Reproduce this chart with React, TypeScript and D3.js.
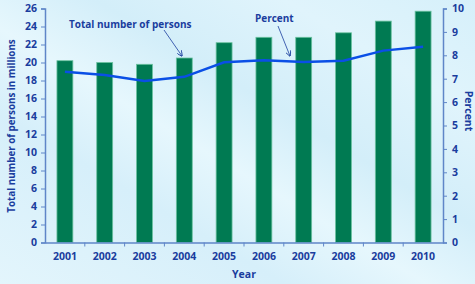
import React, { useEffect, useRef } from 'react';
import * as d3 from 'd3';

const years = ['2001', '2002', '2003', '2004', '2005', '2006', '2007', '2008', '2009', '2010'];
const persons = [20.2, 20.0, 19.8, 20.5, 22.2, 22.8, 22.8, 23.3, 24.6, 25.7];
const percent = [7.3, 7.16, 6.9, 7.08, 7.7, 7.79, 7.71, 7.77, 8.2, 8.37];
const leftTicks = d3.range(0, 27, 2);
const rightTicks = d3.range(0, 11, 1);

const W = 475;
const H = 284;
const TEXT = '#1a3d9e';
const AXIS = '#5f86c8';

const App = () => {
  const svgRef = useRef<SVGSVGElement>(null);

  useEffect(() => {
    if (!svgRef.current) return;
    const svg = d3.select(svgRef.current);
    svg.selectAll('*').remove();

    const margin = { left: 45, right: 32, top: 8, bottom: 41.5 };
    const x0 = margin.left;
    const x1 = W - margin.right;
    const yTop = margin.top + 0.5;
    const yBot = H - margin.bottom;

    // 背景渐变
    const defs = svg.append('defs');
    const grad = defs.append('linearGradient')
      .attr('id', 'bg').attr('x1', '0').attr('y1', '1').attr('x2', '1').attr('y2', '0');
    [['0', '#e3f5fc'], ['0.3', '#d6effa'], ['0.45', '#e6f7fd'], ['0.6', '#d3eef9'], ['0.8', '#e0f4fc'], ['1', '#d6f0fa']]
      .forEach(([o, c]) => grad.append('stop').attr('offset', o).attr('stop-color', c));
    svg.append('rect').attr('width', W).attr('height', H).attr('fill', 'url(#bg)');

    const x = d3.scaleBand().domain(years).range([x0, x1]).paddingInner(0.6).paddingOuter(0.3);
    const xb = d3.scaleBand().domain(years).range([x0, x1]);
    const yL = d3.scaleLinear().domain([0, 26]).range([yBot, yTop]);
    const yR = d3.scaleLinear().domain([0, 10]).range([yBot, yTop]);

    // 柱子
    svg.append('g').selectAll('rect').data(persons).join('rect')
      .attr('x', (_, i) => x(years[i])!)
      .attr('y', d => yL(d))
      .attr('width', x.bandwidth())
      .attr('height', d => yBot - yL(d))
      .attr('fill', '#007a52')
      .attr('stroke', '#6cc2a0')
      .attr('stroke-width', 0.8);

    // 折线
    const line = d3.line<number>()
      .x((_, i) => x(years[i])! + x.bandwidth() / 2)
      .y(d => yR(d));
    svg.append('path').datum(percent)
      .attr('d', line)
      .attr('fill', 'none')
      .attr('stroke', '#0a4fe6')
      .attr('stroke-width', 2.5);

    const font = "'Open Sans', sans-serif";

    // 左轴
    const gl = svg.append('g').attr('transform', `translate(${x0},0)`)
      .call(d3.axisLeft(yL).tickValues(leftTicks).tickSize(4).tickPadding(4));
    // 右轴
    const gr = svg.append('g').attr('transform', `translate(${x1},0)`)
      .call(d3.axisRight(yR).tickValues(rightTicks).tickSize(4).tickPadding(5));
    // 底轴
    const gb = svg.append('g').attr('transform', `translate(0,${yBot})`)
      .call(d3.axisBottom(xb).tickSize(0).tickPadding(10));
    gb.append('g').selectAll('line').data(years.slice(1)).join('line')
      .attr('x1', d => xb(d)!).attr('x2', d => xb(d)!)
      .attr('y1', 0).attr('y2', 4)
      .attr('stroke', AXIS);

    [gl, gr, gb].forEach(g => {
      g.select('.domain').attr('stroke', AXIS).attr('stroke-width', 1.5);
      g.selectAll('.tick line').attr('stroke', AXIS);
      g.selectAll('text')
        .attr('fill', TEXT)
        .attr('font-family', font)
        .attr('font-weight', 'bold')
        .attr('font-size', 10.5);
    });

    // 轴标题
    svg.append('text')
      .attr('transform', `translate(15,126) rotate(-90)`)
      .attr('text-anchor', 'middle')
      .attr('fill', TEXT).attr('font-family', font).attr('font-weight', 'bold').attr('font-size', 9.8)
      .text('Total number of persons in millions');
    svg.append('text')
      .attr('transform', `translate(465,111) rotate(90)`)
      .attr('text-anchor', 'middle')
      .attr('fill', TEXT).attr('font-family', font).attr('font-weight', 'bold').attr('font-size', 10.5)
      .text('Percent');
    svg.append('text')
      .attr('x', (x0 + x1) / 2).attr('y', 278)
      .attr('text-anchor', 'middle')
      .attr('fill', TEXT).attr('font-family', font).attr('font-weight', 'bold').attr('font-size', 10.5)
      .text('Year');

    // 注释
    defs.append('marker').attr('id', 'arr').attr('viewBox', '0 0 10 10')
      .attr('refX', 9).attr('refY', 5).attr('markerWidth', 7).attr('markerHeight', 7).attr('orient', 'auto')
      .append('path').attr('d', 'M0,0 L10,5 L0,10').attr('fill', 'none').attr('stroke', TEXT).attr('stroke-width', 1.5);

    svg.append('text')
      .attr('x', 69).attr('y', 28)
      .attr('fill', TEXT).attr('font-family', font).attr('font-weight', 'bold').attr('font-size', 10)
      .text('Total number of persons');
    svg.append('line')
      .attr('x1', 164).attr('y1', 30).attr('x2', 182).attr('y2', 56)
      .attr('stroke', TEXT).attr('stroke-width', 0.8).attr('marker-end', 'url(#arr)');

    svg.append('text')
      .attr('x', 255).attr('y', 22)
      .attr('fill', TEXT).attr('font-family', font).attr('font-weight', 'bold').attr('font-size', 10)
      .text('Percent');
    svg.append('line')
      .attr('x1', 278).attr('y1', 26).attr('x2', 290).attr('y2', 56)
      .attr('stroke', TEXT).attr('stroke-width', 0.8).attr('marker-end', 'url(#arr)');
  }, []);

  return (
    <svg ref={svgRef} width={W} height={H} style={{ display: 'block', position: 'absolute', left: 0, top: 0 }} />
  );
};

export default App;
